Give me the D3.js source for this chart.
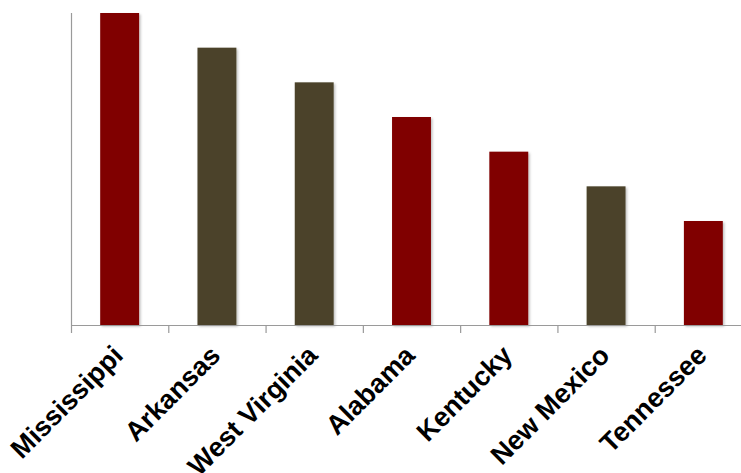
<!DOCTYPE html>
<html>
<head>
<meta charset="utf-8">
<script src="https://cdn.jsdelivr.net/npm/d3@7"></script>
<style>
  html, body { margin: 0; padding: 0; background: #fff; }
  svg { display: block; }
</style>
</head>
<body>
<svg id="chart" width="741" height="473"></svg>
<script>
// States ranked, with their values and bar colours
const states = ["Mississippi", "Arkansas", "West Virginia", "Alabama", "Kentucky", "New Mexico", "Tennessee"];
const values = [9, 8, 7, 6, 5, 4, 3];
const barColors = ["#800000", "#4b4329", "#4b4329", "#800000", "#800000", "#4b4329", "#800000"];

const svg = d3.select("#chart");
const margin = { left: 71, top: 13, bottom: 148 };
const plotRight = 752;
const baseY = 473 - margin.bottom;

const x = d3.scaleBand().domain(states).range([margin.left, plotRight]).padding(0);
const y = d3.scaleLinear().domain([0, 9]).range([baseY, margin.top]);

// soft drop shadow under bars
const defs = svg.append("defs");
const f = defs.append("filter").attr("id", "shadow").attr("x", "-20%").attr("y", "-20%").attr("width", "140%").attr("height", "140%");
f.append("feDropShadow").attr("dx", 1.5).attr("dy", 1.5).attr("stdDeviation", 1.2)
  .attr("flood-color", "#000").attr("flood-opacity", 0.25);

const barW = x.bandwidth() * 0.4;

svg.append("g").selectAll("rect")
  .data(states)
  .join("rect")
  .attr("x", d => x(d) + (x.bandwidth() - barW) / 2)
  .attr("y", (d, i) => y(values[i]))
  .attr("width", barW)
  .attr("height", (d, i) => baseY - y(values[i]))
  .attr("fill", (d, i) => barColors[i])
  .attr("filter", "url(#shadow)");

// axes
const axisColor = "#9a9a9a";
svg.append("line")
  .attr("x1", margin.left + 0.5).attr("x2", margin.left + 0.5)
  .attr("y1", margin.top).attr("y2", baseY)
  .attr("stroke", axisColor).attr("stroke-width", 1.2);

svg.append("line")
  .attr("x1", margin.left).attr("x2", plotRight)
  .attr("y1", baseY + 0.5).attr("y2", baseY + 0.5)
  .attr("stroke", axisColor).attr("stroke-width", 1.2);

// tick marks at category boundaries
svg.append("g").selectAll("line")
  .data(states)
  .join("line")
  .attr("x1", d => x(d) + 0.5).attr("x2", d => x(d) + 0.5)
  .attr("y1", baseY).attr("y2", baseY + 8)
  .attr("stroke", axisColor).attr("stroke-width", 1.2);

// rotated category labels
svg.append("g").selectAll("text")
  .data(states)
  .join("text")
  .attr("transform", d => `translate(${x(d) + x.bandwidth() / 2 + 5},${baseY + 32}) rotate(-45)`)
  .attr("text-anchor", "end")
  .attr("font-family", "Liberation Sans, Arial, sans-serif")
  .attr("font-weight", "bold")
  .attr("font-size", 27)
  .attr("fill", "#000")
  .text(d => d);
</script>
</body>
</html>
